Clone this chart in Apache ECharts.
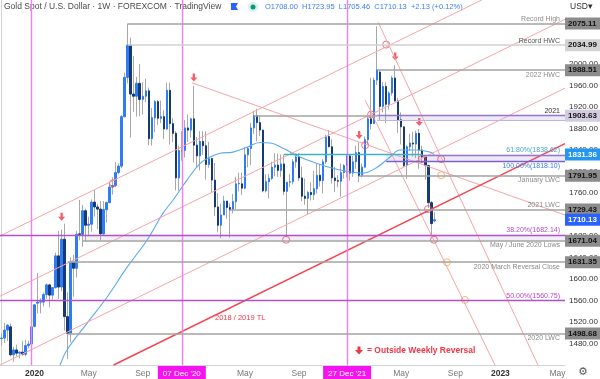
<!DOCTYPE html>
<html><head><meta charset="utf-8">
<script src="https://cdn.jsdelivr.net/npm/echarts@6/dist/echarts.min.js"></script>
<style>html,body{margin:0;padding:0;background:#fff}#c{width:600px;height:379px}</style>
</head><body><div id="c"></div>
<script>
// ---------- DATA ----------
const weekStart = '2019-10-14';
const weekCount = 188;
// weekly candles from weekStart: [open, close, low, high]
const ohlc = [
[1489,1490,1476,1499],[1490,1505,1481,1518],[1505,1514,1485,1516],[1511,1459,1456,1517],[1459,1468,1446,1474],
[1468,1462,1456,1478],[1462,1464,1452,1465],[1464,1460,1457,1485],[1460,1476,1456,1487],[1476,1479,1471,1485],
[1479,1511,1477,1514],[1512,1552,1510,1553],[1555,1557,1536,1611],[1557,1558,1536,1564],[1557,1571,1549,1575],
[1571,1589,1563,1592],[1589,1570,1547,1591],[1570,1584,1562,1585],[1584,1643,1582,1649],[1643,1585,1563,1689],
[1585,1674,1577,1692],[1674,1530,1504,1703],[1530,1499,1451,1575],[1499,1631,1482,1640],[1631,1620,1567,1645],
[1620,1683,1603,1690],[1684,1683,1672,1747],[1683,1727,1660,1738],[1727,1700,1670,1731],[1700,1702,1680,1716],
[1702,1743,1688,1748],[1743,1734,1716,1765],[1734,1730,1693,1740],[1730,1684,1671,1745],[1684,1729,1680,1745],
[1729,1742,1705,1744],[1742,1771,1741,1779],[1771,1774,1757,1789],[1774,1798,1771,1818],[1798,1810,1795,1815],
[1810,1902,1806,1905],[1902,1975,1900,1984],[1975,2035,1964,2075],[2035,1944,1863,2049],[1944,1940,1911,2015],
[1940,1964,1902,1976],[1964,1934,1903,2000],[1934,1940,1906,1966],[1940,1950,1929,1973],[1950,1861,1849,1956],
[1861,1900,1848,1918],[1900,1930,1873,1933],[1930,1899,1887,1933],[1899,1902,1890,1932],[1902,1879,1860,1914],
[1879,1951,1877,1965],[1951,1889,1850,1965],[1889,1871,1854,1899],[1871,1788,1765,1875],[1788,1839,1764,1848],
[1838,1839,1820,1875],[1839,1881,1826,1896],[1881,1877,1855,1906],[1877,1898,1863,1900],[1898,1849,1817,1959],
[1849,1829,1808,1864],[1829,1856,1802,1875],[1856,1848,1831,1875],[1848,1813,1785,1875],[1813,1824,1807,1855],
[1824,1784,1761,1826],[1784,1734,1717,1816],[1734,1700,1687,1760],[1700,1719,1676,1740],[1719,1745,1719,1755],
[1745,1733,1712,1745],[1733,1729,1677,1741],[1729,1744,1722,1758],[1744,1777,1730,1790],[1777,1778,1763,1798],
[1777,1769,1756,1798],[1769,1831,1767,1845],[1831,1843,1808,1846],[1843,1881,1812,1890],[1881,1904,1870,1913],
[1904,1891,1856,1916],[1891,1877,1866,1904],[1877,1764,1761,1878],[1764,1781,1761,1795],[1781,1787,1750,1796],
[1787,1808,1784,1818],[1808,1812,1791,1834],[1812,1802,1790,1833],[1802,1814,1790,1832],[1814,1763,1756,1832],
[1763,1780,1678,1780],[1780,1781,1771,1795],[1781,1818,1776,1823],[1818,1827,1807,1834],[1827,1788,1782,1834],
[1788,1754,1745,1809],[1754,1750,1738,1787],[1750,1761,1721,1764],[1761,1757,1746,1780],[1757,1768,1747,1801],
[1768,1793,1759,1814],[1793,1783,1772,1813],[1783,1818,1759,1823],[1818,1865,1814,1868],[1865,1846,1845,1877],
[1846,1788,1778,1860],[1788,1783,1762,1809],[1783,1782,1771,1793],[1782,1798,1753,1815],[1798,1811,1787,1814],
[1811,1829,1789,1831],[1829,1797,1783,1831],[1797,1818,1790,1829],[1818,1835,1805,1848],[1835,1792,1780,1854],
[1792,1808,1789,1815],[1808,1859,1807,1865],[1859,1898,1850,1902],[1898,1889,1878,1974],[1889,1970,1889,1975],
[1970,1989,1961,2070],[1985,1921,1895,1989],[1921,1958,1910,1966],[1958,1925,1890,1966],[1925,1946,1915,1949],
[1946,1974,1941,1978],[1974,1931,1930,1998],[1931,1896,1872,1937],[1896,1883,1850,1910],[1883,1811,1808,1884],
[1811,1846,1786,1849],[1846,1853,1838,1870],[1853,1851,1828,1874],[1851,1871,1825,1876],[1871,1840,1805,1879],
[1840,1827,1816,1848],[1827,1811,1785,1830],[1811,1742,1732,1813],[1742,1703,1680,1745],[1708,1710.13,1705.46,1723.95]
];
// moving average: [week index, price]
const maPoints = [[19.5,1440],[21.8,1468],[28.5,1518],[35.1,1566],[41.8,1622],[48.4,1672],[53.7,1722],[57.1,1747],
[61.7,1784],[66.1,1815],[69.4,1827],[72.7,1834],[77,1836],[81.7,1845],[86,1854],[89.4,1853],[93.7,1843],[99.3,1827],
[105,1815],[110.3,1806],[116,1799],[120.3,1797],[125,1808],[129.3,1827],[132.6,1840],[138.3,1840],[142.6,1836],[144,1831.36]];
const maLast = 1831.36;
// horizontal levels
const levelValues = [2075.11, 2034.99, 1988.51, 1903.63, 1791.95, 1729.43, 1671.04, 1631.35, 1498.68];
const levelNames = ['Record High','Record HWC','2022 HWC','','January LWC','2021 LWC','May / June 2020 Lows','2020 March Reversal Close','2020 LWC'];
const levelStartWeek = [42, 42, 125, 84, 119, 76, 27, 22, 22];
// fibonacci / zone values
const zone2021 = [1895.5, 1904];
const fibZone = [1819, 1831];
const fibLines = [1682.14, 1560.75];
const fibNames = ['61.80%(1838.62)','100.00%(1818.10)','38.20%(1682.14)','50.00%(1560.75)'];
const tealLevel = 1831.3;
// trendlines [week0, price0, week1, price1]
const tl2018 = [37.3, 1440, 187.5, 1852];
const upChannel = [[-0.5,1680,159.8,2119],[-0.5,1568,187.5,2083],[-0.5,1440,187.5,1955]];
const downLines = [[63.4,1965,187.5,1719],[125.3,2078,178.5,1440],[121,1933,164.2,1440]];
// vertical marker weeks
const vWeeks = [10, 60, 115];
const vLabels = ['', "07 Dec '20", "27 Dec '21"];
// outside weekly reversal markers [week, price]
const reversalArrows = [[20,1716],[64,1975],[119,1868],[131,2014],[139,1892]];
const redCircles = [[37.1,1778],[123,1906],[128,2036],[121,1849],[139.9,1823],[146.3,1823],[94.7,1673],[141.9,1730],[143.9,1673]];
const orangeCircles = [[146.3,1793],[148.2,1631],[154.2,1561]];
// x axis ticks
const xTickWeeks = [11, 29, 47, 81, 99, 133, 151, 166, 185];
const xTickLabels = ['2020','May','Sep','May','Sep','May','Sep','2023','May'];
const yHidden = [1440, 2040, 2080];

// ---------- BUILD ----------
const FONT = '"Liberation Sans", Arial, sans-serif';
const X0 = -0.5, X1 = weekCount - 0.5, Y0 = 1440, Y1 = 2119;
const weeks = [];
const t0 = Date.parse(weekStart + 'T00:00:00Z');
for (let k = 0; k < weekCount; k++) weeks.push(new Date(t0 + k * 7 * 864e5).toISOString().slice(0, 10));
const wickData = ohlc.map(d => d.slice());
const bodyData = ohlc.map(d => [d[0], d[1], Math.min(d[0], d[1]), Math.max(d[0], d[1])]);
const lastClose = ohlc[ohlc.length - 1][1];

const ml = [];
function seg(x0, y0, x1, y1, color, width, label) {
  ml.push([{coord: [x0, y0], lineStyle: {color: color, width: width, type: 'solid'},
            label: label || {show: false}}, {coord: [x1, y1]}]);
}
function txt(text, pos, color) {
  return {show: true, position: pos, formatter: text, color: color, fontSize: 7, fontFamily: FONT, distance: [5, 1]};
}
function box(value, bg, fg) {
  ml.push([{coord: [X1 - 0.5, value], lineStyle: {color: 'rgba(0,0,0,0)', width: 1, type: 'solid'},
    label: {show: true, position: 'end', distance: 0, formatter: value.toFixed(2), backgroundColor: bg, color: fg,
            padding: [2, 2, 1, 3], width: 30, fontSize: 8, fontWeight: 'bold', fontFamily: FONT, lineHeight: 9}}, {coord: [X1, value]}]);
}
// channel & trendlines
upChannel.forEach(l => seg(l[0], l[1], l[2], l[3], '#f7a4a8', 1));
downLines.forEach(l => seg(l[0], l[1], l[2], l[3], '#f7a4a8', 1));
seg(tl2018[0], tl2018[1], tl2018[2], tl2018[3], '#f5454f', 1.4);
// vertical lines
vWeeks.forEach((w, k) => seg(w, Y0, w, Y1, '#f27ff2', 1.4, vLabels[k] ? {show: true, position: 'start', distance: 1,
  formatter: vLabels[k], backgroundColor: '#f514f0', color: '#fff', padding: [3, 5, 2, 5], fontSize: 8, fontFamily: FONT, lineHeight: 9} : null));
// fib lines
seg(X0, fibLines[0], X1, fibLines[0], '#b052c8', 1.4, txt(fibNames[2], 'insideEndTop', '#b44bc8'));
seg(X0, fibLines[1], X1, fibLines[1], '#b052c8', 1.4, txt(fibNames[3], 'insideEndTop', '#b44bc8'));
// 2021 zone
seg(125, zone2021[1], X1, zone2021[1], '#9575cd', 1.4, txt('2021', 'insideEndTop', '#333'));
seg(125, zone2021[0], X1, zone2021[0], '#c2b2e0', 1.2);
// fib zone
seg(94, tealLevel, 140, tealLevel, '#3fb1c4', 1.4);
seg(140, fibZone[1], X1, fibZone[1], '#9575cd', 1.4, txt(fibNames[0], 'insideEndTop', '#4aa3d0'));
seg(128, fibZone[0], X1, fibZone[0], '#7e62c6', 1.4, txt(fibNames[1], 'insideEndBottom', '#3f7fe0'));
// gray levels
const below = [false, false, true, false, true, false, true, true, true];
levelValues.forEach((v, k) => {
  let end = X1;
  if (k === 3) end = 125;
  const col = k === 1 ? '#d0d0d0' : '#a3a3a3';
  const tc = k === 1 ? '#555' : '#8a8a8a';
  seg(levelStartWeek[k], v, end, v, col, 1.5, levelNames[k] ? txt(levelNames[k], below[k] ? 'insideEndBottom' : 'insideEndTop', tc) : null);
});
// price boxes
const boxBg = ['#8c8c8c', '#d3d3d3', '#8c8c8c', '#d3cce0', '#8c8c8c', '#8c8c8c', '#8c8c8c', '#8c8c8c', '#8c8c8c'];
levelValues.forEach((v, k) => box(v, boxBg[k], '#111'));
box(maLast, '#2196f3', '#fff');
box(lastClose, '#2962ff', '#fff');

const arrowPath = 'path://M3,0 L6,0 L6,5 L9,5 L4.5,10 L0,5 L3,5 Z';

const option = {
  animation: false,
  backgroundColor: '#fff',
  grid: {left: 0, right: 35, top: 0, bottom: 14, outerBoundsMode: 'none'},
  xAxis: [{
    type: 'category', data: weeks, boundaryGap: true,
    axisLine: {show: true, lineStyle: {color: '#d0d3d8'}}, axisTick: {show: false}, splitLine: {show: false},
    axisLabel: {
      interval: (idx) => xTickWeeks.indexOf(idx) >= 0, margin: 4, fontSize: 8.5, fontFamily: FONT, color: '#777',
      formatter: (val, idx) => { const k = xTickWeeks.indexOf(idx); if (k < 0) return ''; const s = xTickLabels[k]; return /^\d/.test(s) ? '{y|' + s + '}' : s; },
      rich: {y: {color: '#333', fontWeight: 'bold', fontSize: 8.5, fontFamily: FONT}}
    }
  }, {
    type: 'value', min: X0, max: X1, show: false
  }],
  yAxis: {
    type: 'value', position: 'right', min: Y0, max: Y1, interval: 40, scale: false,
    splitLine: {show: false}, axisTick: {show: false},
    axisLine: {show: true, lineStyle: {color: '#d0d3d8'}},
    axisLabel: {margin: 4, fontSize: 8, fontFamily: FONT, color: '#333', showMaxLabel: false, showMinLabel: false,
      formatter: v => yHidden.indexOf(v) >= 0 ? '' : v.toFixed(2)}
  },
  series: [
    {type: 'candlestick', xAxisIndex: 0, data: wickData, barWidth: 1, silent: true,
     itemStyle: {color: '#a8a8a8', color0: '#a8a8a8', borderColor: '#a8a8a8', borderColor0: '#a8a8a8', borderWidth: 1}},
    {type: 'candlestick', xAxisIndex: 0, data: bodyData, barWidth: 2, silent: true,
     itemStyle: {color: '#2e7cf6', color0: '#173a74', borderColor: '#2e7cf6', borderColor0: '#173a74', borderWidth: 1}},
    {type: 'line', xAxisIndex: 1, data: maPoints, smooth: 0.4, showSymbol: false, silent: true,
     lineStyle: {color: '#5aaaf2', width: 1.1},
     markArea: {silent: true, data: [
       [{coord: [125, zone2021[0]], itemStyle: {color: 'rgba(149,117,205,0.16)'}}, {coord: [X1, zone2021[1]]}],
       [{coord: [128, fibZone[0]], itemStyle: {color: 'rgba(149,117,205,0.16)'}}, {coord: [X1, fibZone[1]]}],
       [{coord: [27, levelValues[6]], itemStyle: {color: 'rgba(149,117,205,0.12)'}}, {coord: [X1, fibLines[0]]}]
     ]},
     markLine: {silent: true, symbol: ['none', 'none'], animation: false, emphasis: {disabled: true}, data: ml}
    },
    {type: 'scatter', xAxisIndex: 1, data: redCircles, symbol: 'circle', symbolSize: 7, silent: true,
     itemStyle: {color: 'rgba(0,0,0,0)', borderColor: '#ee4a62', borderWidth: 1}},
    {type: 'scatter', xAxisIndex: 1, data: orangeCircles, symbol: 'circle', symbolSize: 7, silent: true,
     itemStyle: {color: 'rgba(0,0,0,0)', borderColor: '#f7a13a', borderWidth: 1}},
    {type: 'scatter', xAxisIndex: 1, data: reversalArrows, symbol: arrowPath, symbolSize: [7, 8], silent: true,
     itemStyle: {color: '#f23645'}}
  ],
  graphic: [
    {type: 'text', x: 4, y: 7, style: {text: 'Gold Spot / U.S. Dollar · 1W · FOREXCOM · TradingView', font: '8.5px ' + FONT, fill: '#4a4a4a', verticalAlign: 'middle'}},
    {type: 'polygon', shape: {points: [[231, 3], [238, 3], [236, 6.5], [238, 10], [231, 10]]}, style: {fill: '#2962ff'}},
    {type: 'circle', shape: {cx: 253, cy: 7, r: 5}, style: {fill: '#dcefea'}},
    {type: 'circle', shape: {cx: 253, cy: 7, r: 2.5}, style: {fill: '#089981'}},
    {type: 'text', x: 265, y: 7, style: {text: 'O1708.00  H1723.95  L1705.46  C1710.13  +2.13 (+0.12%)', font: '7.5px ' + FONT, fill: '#3a7ef5', verticalAlign: 'middle'}},
    {type: 'text', x: 570, y: 7, style: {text: 'USD▾', font: '8.5px ' + FONT, fill: '#333', verticalAlign: 'middle'}},
    {type: 'text', x: 578, y: 372, style: {text: '⚙', font: '11px "DejaVu Sans"', fill: '#555', verticalAlign: 'middle'}},
    {type: 'polygon', shape: {points: [[357.5, 346.5], [360.5, 346.5], [360.5, 350], [363, 350], [359, 354.5], [355, 350], [357.5, 350]]}, style: {fill: '#f23645'}},
    {type: 'text', x: 367, y: 351, style: {text: '= Outside Weekly Reversal', font: 'bold 8.5px ' + FONT, fill: '#f23645', verticalAlign: 'middle'}},
    {type: 'text', x: 215, y: 318, style: {text: '2018 / 2019 TL', font: '7.5px ' + FONT, fill: '#f23645', verticalAlign: 'middle'}}
  ]
};
const chart = echarts.init(document.getElementById('c'), null, {renderer: 'canvas'});
chart.setOption(option);
</script>
</body></html>
